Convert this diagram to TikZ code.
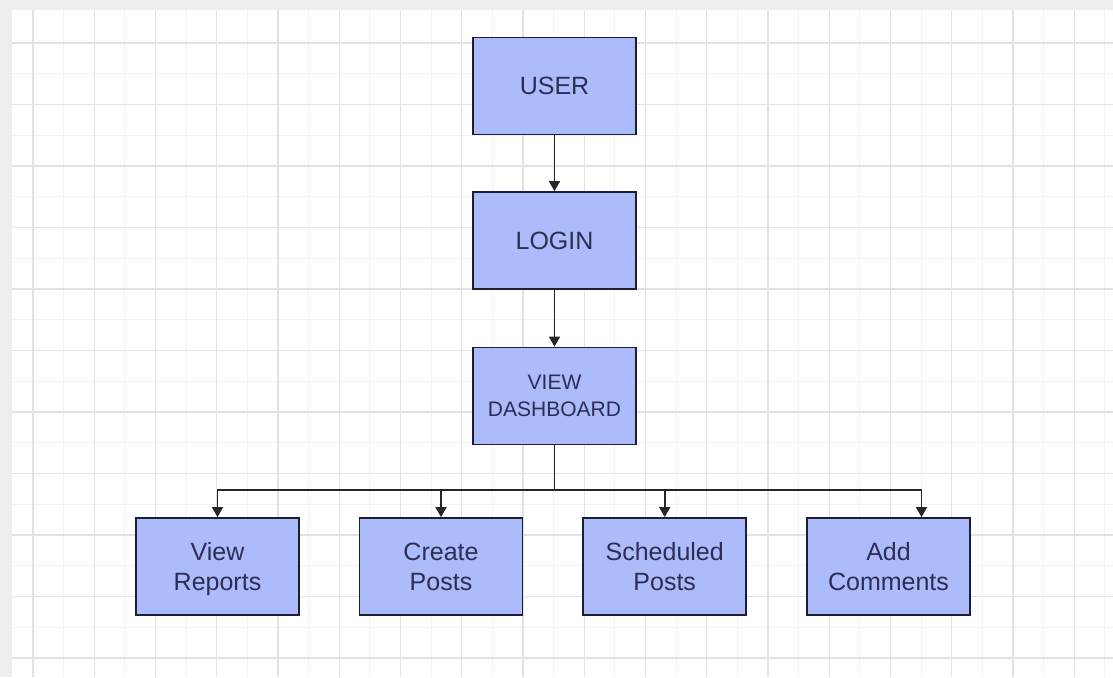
\documentclass[tikz,border=0pt]{standalone}
\usepackage{fontspec}
\setmainfont{Liberation Sans}
\usetikzlibrary{arrows.meta}

\definecolor{boxfill}{RGB}{172,188,250}
\definecolor{boxline}{RGB}{30,30,50}
\definecolor{boxtext}{RGB}{45,45,85}
\definecolor{gridmajor}{RGB}{226,226,226}
\definecolor{gridminor}{RGB}{242,242,242}
\definecolor{pageedge}{RGB}{238,238,238}

\tikzset{
  block/.style={draw=boxline, fill=boxfill, line width=1.8pt,
    minimum width=163pt, minimum height=97pt, inner sep=0pt,
    text depth=0pt, align=center, text=boxtext,
    font=\fontsize{25}{30}\selectfont},
  wire/.style={line width=1.7pt, draw=black!85},
}

\begin{document}
\begin{tikzpicture}[x=1pt,y=-1pt,>={Triangle[width=11pt,length=10pt]},line join=miter]
  \useasboundingbox (0,0) rectangle (1113,677);
  % page and grid
  \fill[pageedge] (0,0) rectangle (1113,677);
  \fill[white] (12,10) rectangle (1113,677);
  \foreach \i in {1,...,18} {
    \draw[gridminor,line width=1pt] ({33+61.25*\i-30.6},10) -- ({33+61.25*\i-30.6},677);
  }
  \foreach \j in {1,...,10} {
    \draw[gridminor,line width=1pt] (12,{43+61.5*\j-30.7}) -- (1113,{43+61.5*\j-30.7});
  }
  \foreach \i in {0,...,17} {
    \draw[gridmajor,line width=1.3pt] ({33+61.25*\i},10) -- ({33+61.25*\i},677);
  }
  \foreach \j in {0,...,10} {
    \draw[gridmajor,line width=1.3pt] (12,{43+61.5*\j}) -- (1113,{43+61.5*\j});
  }
  % main column
  \node[block] (user) at (554.5,86) {USER};
  \node[block] (login) at (554.5,240.5) {LOGIN};
  \node[block,font=\fontsize{21}{27}\selectfont] (dash) at (554.5,396) {VIEW\\DASHBOARD};
  % bottom row
  \node[block] (reports) at (217.5,566.5) {View\\Reports};
  \node[block] (create) at (441,566.5) {Create\\Posts};
  \node[block] (sched) at (664.7,566.5) {Scheduled\\Posts};
  \node[block] (comments) at (888.5,566.5) {Add\\Comments};
  \coordinate (bus) at (554.5,490);
  \coordinate (cin) at ([xshift=33pt]comments.north);
  % connectors
  \draw[wire,->] (user) -- (login);
  \draw[wire,->] (login) -- (dash);
  \draw[wire] (dash) -- (bus);
  \draw[wire,<->] (reports.north) |- (bus) -| (cin);
  \foreach \n in {create,sched} {
    \draw[wire,->] (\n.north |- bus) -- (\n);
  }
\end{tikzpicture}
\end{document}
